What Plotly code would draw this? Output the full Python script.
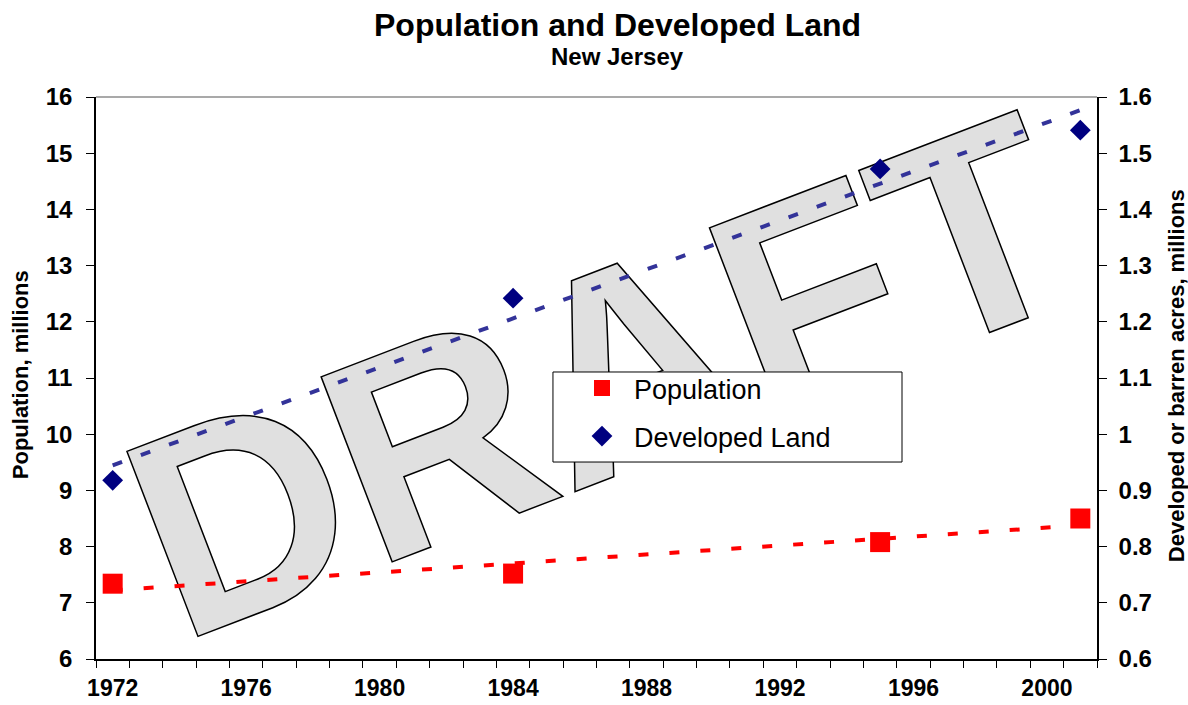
import numpy as np
import plotly.graph_objects as go

# ---------------- data ----------------
years = [1972, 1984, 1995, 2001]
population = [7.34, 7.52, 8.08, 8.50]          # millions
developed = [0.918, 1.242, 1.472, 1.541]       # millions of acres

label_years = [1972, 1976, 1980, 1984, 1988, 1992, 1996, 2000]
year_bounds = [1971.5 + i for i in range(31)]
pop_ticks = list(range(6, 17))
dev_ticks = [0.6, 0.7, 0.8, 0.9, 1.0, 1.1, 1.2, 1.3, 1.4, 1.5, 1.6]
dev_ticktext = ["0.6", "0.7", "0.8", "0.9", "1", "1.1", "1.2", "1.3", "1.4", "1.5", "1.6"]

x_range = [1971.5, 2001.5]
pop_range = [6, 16]
dev_range = [0.6, 1.6]

# linear trendlines (least squares, as the original chart's trendlines)
trend_x = [min(years), max(years)]
pop_fit = np.polyfit(years, population, 1)
dev_fit = np.polyfit(years, developed, 1)
pop_trend = list(np.polyval(pop_fit, trend_x))
dev_trend = list(np.polyval(dev_fit, trend_x))

FONT = "Liberation Sans, Arial, sans-serif"

fig = go.Figure()
fig.add_trace(go.Scatter(x=trend_x, y=pop_trend, mode="lines", showlegend=False,
                         line=dict(color="#ff0000", width=4, dash="10px,21px"),
                         hoverinfo="skip", xaxis="x", yaxis="y"))
fig.add_trace(go.Scatter(x=years, y=population, mode="markers", name="Population",
                         legendgroup="a",
                         marker=dict(symbol="square", size=20, color="#ff0000"),
                         xaxis="x", yaxis="y"))
fig.add_trace(go.Scatter(x=trend_x, y=dev_trend, mode="lines", showlegend=False,
                         line=dict(color="#333399", width=4, dash="10px,20px"),
                         hoverinfo="skip", xaxis="x", yaxis="y2"))
fig.add_trace(go.Scatter(x=years, y=developed, mode="markers", name="Developed Land",
                         legendgroup="b",
                         marker=dict(symbol="diamond", size=16, color="#000080"),
                         xaxis="x", yaxis="y2"))

tickfont = dict(family=FONT, size=24, color="black", weight="bold")
xtickfont = dict(family=FONT, size=23, color="black", weight="bold")
common = dict(showgrid=False, zeroline=False, automargin=False)

fig.update_layout(
    width=1188, height=705,
    margin=dict(l=96, r=91, t=97, b=46),
    paper_bgcolor="white", plot_bgcolor="rgba(0,0,0,0)",
    font=dict(family=FONT, color="black"),
    xaxis=dict(range=x_range, tickvals=label_years, ticks="", showline=True,
               linecolor="black", linewidth=1.5, tickfont=xtickfont,
               ticklabelstandoff=8,
               minor=dict(tickvals=year_bounds, ticks="outside", ticklen=7,
                          tickcolor="black", tickwidth=1.3, showgrid=False),
               **common),
    xaxis2=dict(range=x_range, overlaying="x", side="bottom", anchor="y",
                tickvals=year_bounds, ticks="inside", ticklen=7, tickcolor="black",
                tickwidth=1.3, showticklabels=False, showline=False, **common),
    yaxis=dict(range=pop_range, tickvals=pop_ticks, ticks="outside", ticklen=8,
               tickcolor="black", tickwidth=1.3, showline=True, linecolor="black",
               linewidth=1.5, tickfont=tickfont, ticklabelstandoff=9, **common),
    yaxis2=dict(range=dev_range, overlaying="y", side="right", anchor="x",
                tickvals=dev_ticks, ticktext=dev_ticktext, ticks="outside", ticklen=8,
                tickcolor="black", tickwidth=1.3, showline=True, linecolor="black",
                linewidth=1.5, tickfont=tickfont, ticklabelstandoff=7, **common),
    yaxis3=dict(range=pop_range, overlaying="y", side="left", anchor="x",
                tickvals=pop_ticks, ticks="inside", ticklen=8, tickcolor="black",
                tickwidth=1.3, showticklabels=False, showline=False, **common),
    yaxis4=dict(range=dev_range, overlaying="y", side="right", anchor="x",
                tickvals=dev_ticks, ticks="inside", ticklen=8, tickcolor="black",
                tickwidth=1.3, showticklabels=False, showline=False, **common),
    legend=dict(x=0.4735, y=0.525, xanchor="left", yanchor="top",
                bgcolor="rgba(0,0,0,0)", borderwidth=0, tracegroupgap=10,
                itemwidth=54,
                font=dict(family=FONT, size=27, color="black")),
    shapes=[
        dict(type="rect", xref="paper", yref="paper", x0=0.4935 - 0.6, x1=0.4935 + 0.6,
             y0=0.55 - 0.6, y1=0.55 + 0.6, layer="below",
             line=dict(width=0), fillcolor="rgba(0,0,0,0)",
             label=dict(text='<span style="stroke:#000000;stroke-width:1.5px">DRAFT</span>',
                        textangle=-21, textposition="middle center",
                        font=dict(family=FONT, size=288, color="#e0e0e0", weight="bold"))),
        dict(type="line", xref="paper", yref="paper", x0=0, x1=1, y0=1, y1=1,
             layer="below", line=dict(color="#8c8c8c", width=1.5)),
        dict(type="rect", xref="paper", yref="paper",
             x0=0.4565, x1=0.8052, y0=0.3505, y1=0.5107, layer="above",
             line=dict(color="black", width=1), fillcolor="white"),
    ],
    annotations=[
        dict(text="Population and Developed Land", xref="paper", yref="paper",
             x=0.5205, y=1.128, xanchor="center", yanchor="middle", showarrow=False,
             font=dict(family=FONT, size=32, color="black", weight="bold")),
        dict(text="New Jersey", xref="paper", yref="paper",
             x=0.5205, y=1.0712, xanchor="center", yanchor="middle", showarrow=False,
             font=dict(family=FONT, size=24, color="black", weight="bold")),
        dict(text="Population, millions", xref="paper", yref="paper",
             x=-0.0759, y=0.505, xanchor="center", yanchor="middle", showarrow=False,
             textangle=-90, font=dict(family=FONT, size=22, color="black", weight="bold")),
        dict(text="Developed or barren acres, millions", xref="paper", yref="paper",
             x=1.0789, y=0.505, xanchor="center", yanchor="middle", showarrow=False,
             textangle=-90, font=dict(family=FONT, size=22, color="black", weight="bold")),
    ],
)

fig.write_html("out.html", config={"displayModeBar": False},
               post_script="document.body.style.margin='0';")
